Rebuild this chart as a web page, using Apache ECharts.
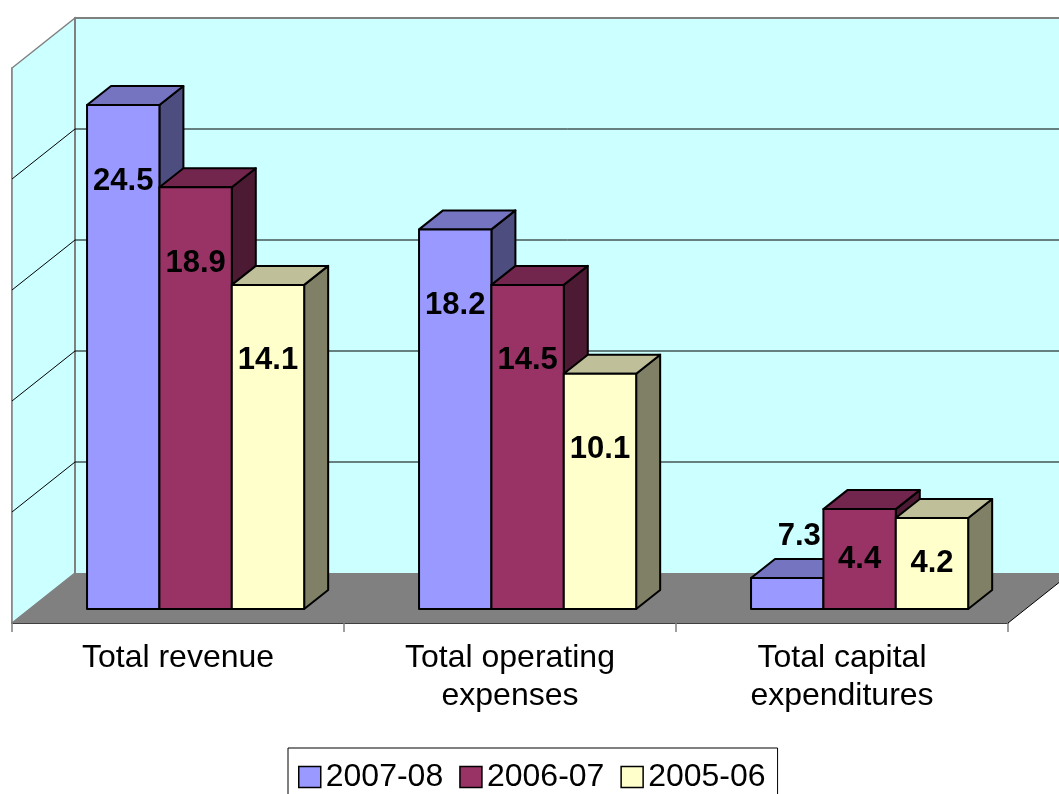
<!DOCTYPE html>
<html>
<head>
<meta charset="utf-8">
<script src="https://cdn.jsdelivr.net/npm/echarts@6/dist/echarts.min.js"></script>
<style>
  html, body { margin: 0; padding: 0; background: #fff; }
  #chart { width: 1059px; height: 794px; }
</style>
</head>
<body>
<div id="chart"></div>
<script>
// data
const categories = ['Total revenue', 'Total operating\nexpenses', 'Total capital\nexpenditures'];
const seriesNames = ['2007-08', '2006-07', '2005-06'];
// bar heights as drawn
const bars0708 = [22.7, 17.1, 1.4];
const bars0607 = [19.0, 14.6, 4.5];
const bars0506 = [14.6, 10.6, 4.1];
// values printed on the bars
const labels0708 = [24.5, 18.2, 7.3];
const labels0607 = [18.9, 14.5, 4.4];
const labels0506 = [14.1, 10.1, 4.2];
// value axis
const yMax = 25;
const yStep = 5;

const FONT = '"Liberation Sans", Arial, sans-serif';
const frontColors = ['#9999FF', '#993366', '#FFFFCC'];
const topColors = ['#7474C0', '#73264D', '#BFBF99'];
const sideColors = ['#4D4D80', '#4D1A33', '#808066'];

// oblique 3d offsets (px)
const DEPTH = [63, -50];       // whole floor depth
const BAR_FRONT = [17.6, -14]; // front face of the bars behind the front edge
const BAR_DEPTH = [24, -19];   // depth of a bar

function renderWalls(params, api) {
  const cs = params.coordSys;
  const x1 = cs.x, x2 = cs.x + cs.width;
  const y0 = api.coord([0, 0])[1];
  const yT = api.coord([0, yMax])[1];
  const dx = DEPTH[0], dy = DEPTH[1];
  const children = [];
  // back wall
  children.push({
    type: 'polygon',
    shape: { points: [[x1 + dx, y0 + dy], [x2 + dx, y0 + dy], [x2 + dx, yT + dy], [x1 + dx, yT + dy]] },
    style: { fill: '#CCFFFF', stroke: null }
  });
  // side wall
  children.push({
    type: 'polygon',
    shape: { points: [[x1, y0], [x1 + dx, y0 + dy], [x1 + dx, yT + dy], [x1, yT]] },
    style: { fill: '#CCFFFF', stroke: '#808080', lineWidth: 1.5 }
  });
  // back wall edges
  children.push({
    type: 'polyline',
    shape: { points: [[x1 + dx, y0 + dy], [x1 + dx, yT + dy], [x2 + dx + 50, yT + dy]] },
    style: { stroke: '#808080', lineWidth: 2, fill: null }
  });
  // grid lines
  for (let v = yStep; v < yMax; v += yStep) {
    const y = api.coord([0, v])[1];
    children.push({
      type: 'polyline',
      shape: { points: [[x1, y], [x1 + dx, y + dy], [x2 + dx + 50, y + dy]] },
      style: { stroke: '#000', lineWidth: 1, fill: null }
    });
  }
  // floor
  children.push({
    type: 'polygon',
    shape: { points: [[x1, y0], [x2, y0], [x2 + dx, y0 + dy], [x1 + dx, y0 + dy]] },
    style: { fill: '#808080', stroke: null }
  });
  children.push({
    type: 'line',
    shape: { x1: x2, y1: y0, x2: x2 + dx, y2: y0 + dy },
    style: { stroke: '#000', lineWidth: 1 }
  });
  return { type: 'group', children: children };
}

function makeBarRenderer(si) {
  return function (params, api) {
    const idx = api.value(0);
    const base = api.coord([idx, 0]);
    const top = api.coord([idx, api.value(1)]);
    const band = api.size([1, 0])[0];
    const bw = band * 0.218;
    const x = base[0] - 1.5 * bw + si * bw + BAR_FRONT[0];
    const yb = base[1] + BAR_FRONT[1];
    const yt = top[1] + BAR_FRONT[1];
    const ddx = BAR_DEPTH[0], ddy = BAR_DEPTH[1];
    const h = yb - yt;
    const border = { stroke: '#000', lineWidth: 2, lineJoin: 'round' };
    const label = api.value(2).toFixed(1);
    let lx, ly;
    if (h < 60) {
      lx = x + bw / 2 + ddx / 2;
      ly = yt + ddy - 22;
    } else {
      lx = x + bw / 2;
      ly = yt + Math.min(76, h / 2);
    }
    return {
      type: 'group',
      children: [
        {
          type: 'polygon',
          shape: { points: [[x + bw, yt], [x + bw + ddx, yt + ddy], [x + bw + ddx, yb + ddy], [x + bw, yb]] },
          style: Object.assign({ fill: sideColors[si] }, border)
        },
        {
          type: 'polygon',
          shape: { points: [[x, yt], [x + bw, yt], [x + bw + ddx, yt + ddy], [x + ddx, yt + ddy]] },
          style: Object.assign({ fill: topColors[si] }, border)
        },
        {
          type: 'rect',
          shape: { x: x, y: yt, width: bw, height: h },
          style: Object.assign({ fill: frontColors[si] }, border)
        },
        {
          type: 'text',
          z2: 10,
          style: {
            text: label, x: lx, y: ly, align: 'center', verticalAlign: 'middle',
            font: 'bold 31px ' + FONT, fill: '#000'
          }
        }
      ]
    };
  };
}

const barData = [bars0708, bars0607, bars0506];
const labelData = [labels0708, labels0607, labels0506];

const chart = echarts.init(document.getElementById('chart'), null, { renderer: 'canvas' });

const series = [{
  type: 'custom',
  name: 'walls',
  z: 1,
  silent: true,
  renderItem: renderWalls,
  data: [[0, 0]]
}];
seriesNames.forEach(function (name, i) {
  series.push({
    type: 'custom',
    name: name,
    z: 2,
    itemStyle: { color: frontColors[i] },
    renderItem: makeBarRenderer(i),
    encode: { x: 0, y: 1 },
    data: barData[i].map(function (v, j) { return [j, v, labelData[i][j]]; })
  });
});

const option = {
  animation: false,
  backgroundColor: '#fff',
  grid: { left: 12, top: 68, width: 996, height: 555 },
  legend: {
    data: seriesNames.map(function (n, i) {
      return { name: n, itemStyle: { color: frontColors[i], borderColor: '#000', borderWidth: 1.5 } };
    }),
    icon: 'rect',
    left: 288,
    top: 748,
    padding: [13, 12, 20, 10],
    itemWidth: 22,
    itemHeight: 21,
    itemGap: 16,
    borderColor: '#000',
    borderWidth: 1,
    backgroundColor: '#fff',
    textStyle: { fontSize: 32, fontFamily: FONT, color: '#000' }
  },
  xAxis: {
    type: 'category',
    data: categories,
    axisLine: { lineStyle: { color: '#000', width: 1.5 } },
    axisTick: { show: true, length: 9, lineStyle: { color: '#808080', width: 1.5 } },
    axisLabel: { fontSize: 32, lineHeight: 38, fontFamily: FONT, color: '#000', margin: 16 },
    splitLine: { show: false }
  },
  yAxis: {
    type: 'value',
    min: 0,
    max: yMax,
    interval: yStep,
    axisLine: { show: true, lineStyle: { color: '#808080', width: 1.5 } },
    axisTick: { show: false },
    axisLabel: { show: false },
    splitLine: { show: false }
  },
  series: series
};

chart.setOption(option);
</script>
</body>
</html>
